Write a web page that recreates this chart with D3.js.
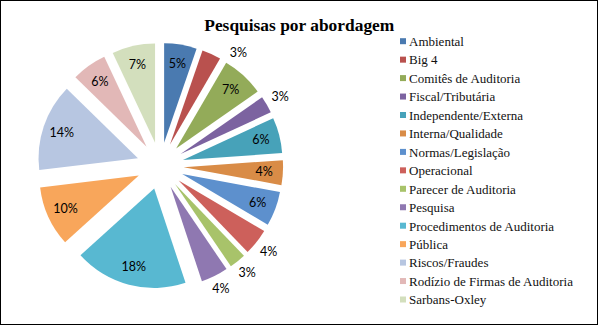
<!DOCTYPE html>
<html>
<head>
<meta charset="utf-8">
<script src="https://cdn.jsdelivr.net/npm/d3@7"></script>
<style>
  html, body { margin: 0; padding: 0; background: #fff; }
  svg { display: block; }
</style>
</head>
<body>
<svg id="chart" width="600" height="326"></svg>
<script>
// ---- data ----
const title = "Pesquisas por abordagem";
const categories = [
  "Ambiental", "Big 4", "Comitês de Auditoria", "Fiscal/Tributária",
  "Independente/Externa", "Interna/Qualidade", "Normas/Legislação",
  "Operacional", "Parecer de Auditoria", "Pesquisa",
  "Procedimentos de Auditoria", "Pública", "Riscos/Fraudes",
  "Rodízio de Firmas de Auditoria", "Sarbans-Oxley"
];
const values = [5.3, 3.1, 6.9, 2.8, 5.8, 4.0, 5.6, 4.3, 2.7, 4.4, 18.4, 9.8, 14.2, 5.7, 7.0];
const colors = [
  "#4a7ab0", "#b9514e", "#93ab59", "#7c63a0", "#47a2b9", "#d98c47",
  "#5d90cd", "#cd605b", "#a8c36a", "#8f78b1", "#58b8d1", "#f8a65b",
  "#b7c6e1", "#e2b8b7", "#d3dfbd"
];

// ---- layout ----
const svg = d3.select("#chart");
const W = 600, H = 326;
const cx = 160.2, cy = 165.8;
const R = 99.4;          // slice radius
const explode = 23.5;    // explosion offset
const labelFont = "Lato, 'Open Sans', sans-serif";
const labelSize = 12.5;

svg.append("rect").attr("x", 0).attr("y", 0).attr("width", W).attr("height", H).attr("fill", "#fff");
svg.append("rect").attr("x", 0.5).attr("y", 0.5).attr("width", 597).attr("height", 324)
  .attr("fill", "none").attr("stroke", "#000").attr("stroke-width", 1);

// title
const titleText = svg.append("text")
  .attr("x", 299.3).attr("y", 31)
  .attr("text-anchor", "middle")
  .attr("font-family", "'Liberation Serif', 'Times New Roman', serif")
  .attr("font-weight", "bold")
  .attr("font-size", 17.4)
  .attr("fill", "#000")
  .text(title);
const tb = titleText.node().getBBox();
const titleClear = 10; // clearance kept below the title

// pie
const pie = d3.pie().sort(null).value(d => d);
const arcs = pie(values);
const total = d3.sum(values);
const arc = d3.arc().innerRadius(0).outerRadius(R);

const g = svg.append("g").attr("transform", `translate(${cx},${cy})`);

function dirOf(a) { return [Math.sin(a), -Math.cos(a)]; }

g.selectAll("path.slice").data(arcs).enter().append("path")
  .attr("class", "slice")
  .attr("d", arc)
  .attr("fill", (d, i) => colors[i])
  .attr("transform", d => {
    const m = (d.startAngle + d.endAngle) / 2;
    const [dx, dy] = dirOf(m);
    return `translate(${dx * explode},${dy * explode})`;
  });

// labels with a "best fit" placement
const labelH = 10;
const pad = 2;
function normAngle(a) { a = a % (2 * Math.PI); return a < 0 ? a + 2 * Math.PI : a; }

arcs.forEach((d, i) => {
  const m = (d.startAngle + d.endAngle) / 2;
  const [ux, uy] = dirOf(m);
  const ax = ux * explode, ay = uy * explode; // apex relative to center
  const txt = g.append("text")
    .attr("text-anchor", "middle")
    .attr("font-family", labelFont)
    .attr("font-size", labelSize)
    .attr("fill", "#000")
    .text(Math.round(d.value / total * 100) + "%");
  const w = txt.node().getComputedTextLength();

  // inside candidate
  const rin = 0.81 * R;
  let lx = ax + ux * rin, ly = ay + uy * rin;
  let fits = true;
  for (const sx of [-1, 1]) for (const sy of [-1, 1]) {
    const px = lx + sx * w / 2 - ax, py = ly + sy * labelH / 2 - ay;
    const rr = Math.hypot(px, py);
    const ang = normAngle(Math.atan2(px, -py));
    const margin = pad / rr;
    if (rr > R - 1 || ang < d.startAngle + margin || ang > d.endAngle - margin) fits = false;
  }
  if (!fits) {
    // outside, near the arc; rotate clockwise if it would crowd the title
    let a = m;
    for (let k = 0; k < 60; k++) {
      const [vx, vy] = dirOf(a);
      const ext = (w / 2) * Math.abs(vx) + (labelH / 2 + 1) * Math.abs(vy);
      const dist = R + 5 + ext;
      lx = ax + vx * dist; ly = ay + vy * dist;
      const bx0 = cx + lx - w / 2, bx1 = cx + lx + w / 2;
      const by0 = cy + ly - labelH / 2 - 2, by1 = cy + ly + labelH / 2;
      const overlap = bx1 > tb.x && bx0 < tb.x + tb.width &&
                      by0 < tb.y + tb.height + titleClear && by1 > tb.y;
      if (!overlap) break;
      a += Math.PI / 180;
    }
  }
  txt.attr("x", lx).attr("y", ly).attr("dy", "0.36em");
});

// legend
const legend = svg.append("g");
const legX = 400, legY0 = 41.7, legStep = 18.45;
categories.forEach((c, i) => {
  const y = legY0 + i * legStep;
  legend.append("rect")
    .attr("x", legX).attr("y", y - 3.5).attr("width", 6).attr("height", 6)
    .attr("fill", colors[i]);
  legend.append("text")
    .attr("x", legX + 9).attr("y", y + 4.3)
    .attr("font-family", "'Liberation Serif', 'Times New Roman', serif")
    .attr("font-size", 13)
    .attr("fill", "#111")
    .text(c);
});
</script>
</body>
</html>
